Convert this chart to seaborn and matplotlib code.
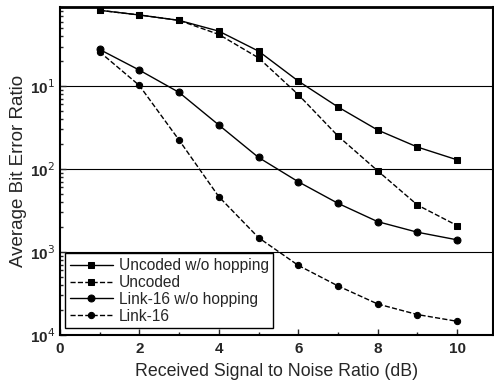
import matplotlib
matplotlib.use("Agg")
import matplotlib.pyplot as plt
import seaborn as sns
import pandas as pd
from matplotlib.ticker import LogLocator, FixedLocator, NullFormatter

snr = [1, 2, 3, 4, 5, 6, 7, 8, 9, 10]
uncoded_nohop = [0.82, 0.72, 0.62, 0.46, 0.264, 0.115, 0.056, 0.0295, 0.0184, 0.0129]
uncoded = [0.82, 0.72, 0.62, 0.42, 0.219, 0.079, 0.025, 0.0095, 0.00368, 0.00208]
link16_nohop = [0.277, 0.156, 0.084, 0.034, 0.0138, 0.00703, 0.00386, 0.00232, 0.00173, 0.0014]
link16 = [0.259, 0.102, 0.0224, 0.00465, 0.00149, 0.00069, 0.00039, 0.000236, 0.000176, 0.000146]
series_names = ["Uncoded w/o hopping", "Uncoded", "Link-16 w/o hopping", "Link-16"]

frames = []
for name, vals in zip(series_names, [uncoded_nohop, uncoded, link16_nohop, link16]):
    frames.append(pd.DataFrame({"snr": snr, "ber": vals, "series": name}))
df = pd.concat(frames, ignore_index=True)

sns.set_style("ticks")
plt.rcParams['font.family'] = ['Liberation Sans', 'DejaVu Sans']

fig = plt.figure(figsize=(4.94, 3.85), dpi=100)
ax = fig.add_axes([0.121, 0.13, 0.877, 0.852])

styles = {
    "Uncoded w/o hopping": dict(ls="-", marker="s", ms=4.5),
    "Uncoded": dict(ls="--", marker="s", ms=4.5),
    "Link-16 w/o hopping": dict(ls="-", marker="o", ms=5),
    "Link-16": dict(ls="--", marker="o", ms=4.5),
}
for name in series_names:
    sub = df[df["series"] == name]
    st = styles[name]
    sns.lineplot(data=sub, x="snr", y="ber", ax=ax, color="black", lw=1.0,
                 linestyle=st["ls"], marker=st["marker"], markersize=st["ms"],
                 markeredgecolor="black", label=name)

ax.set_yscale("log")
ax.set_xlim(0, 10.9)
ax.set_ylim(1e-4, 0.9)
ax.set_xticks([0, 2, 4, 6, 8, 10])
ax.xaxis.set_minor_locator(FixedLocator([1, 3, 5, 7, 9]))
ax.yaxis.set_major_locator(FixedLocator([1e-4, 1e-3, 1e-2, 1e-1]))
ax.set_yticklabels(["10$^4$", "10$^3$", "10$^2$", "10$^1$"])
ax.yaxis.set_minor_locator(LogLocator(base=10, subs=range(2, 10)))
ax.yaxis.set_minor_formatter(NullFormatter())
ax.tick_params(axis="both", which="both", direction="in", labelsize=11, width=1.0)
ax.tick_params(axis="both", which="major", length=4)
ax.tick_params(axis="both", which="minor", length=2.5)
ax.tick_params(axis="x", which="major", pad=5)
for lbl in ax.get_xticklabels() + ax.get_yticklabels():
    lbl.set_fontweight("bold")

for yv in [1e-1, 1e-2, 1e-3]:
    ax.axhline(yv, color="black", lw=0.8, zorder=0)

for s in ax.spines.values():
    s.set_visible(True)
    s.set_linewidth(1.5)
    s.set_color("black")
ax.spines["top"].set_linewidth(2.0)

ax.set_xlabel("Received Signal to Noise Ratio (dB)", fontsize=12.8, labelpad=5)
ax.set_ylabel("Average Bit Error Ratio", fontsize=13.5, labelpad=2)

leg = ax.legend(loc="lower left", bbox_to_anchor=(0.012, 0.02), fontsize=11.2,
                frameon=True, fancybox=False, edgecolor="black",
                handlelength=2.8, handletextpad=0.35, borderpad=0.3,
                labelspacing=0.12, borderaxespad=0.0)
leg.get_frame().set_linewidth(1.0)
leg.get_frame().set_alpha(1.0)

fig.savefig("out.png", dpi=100)
